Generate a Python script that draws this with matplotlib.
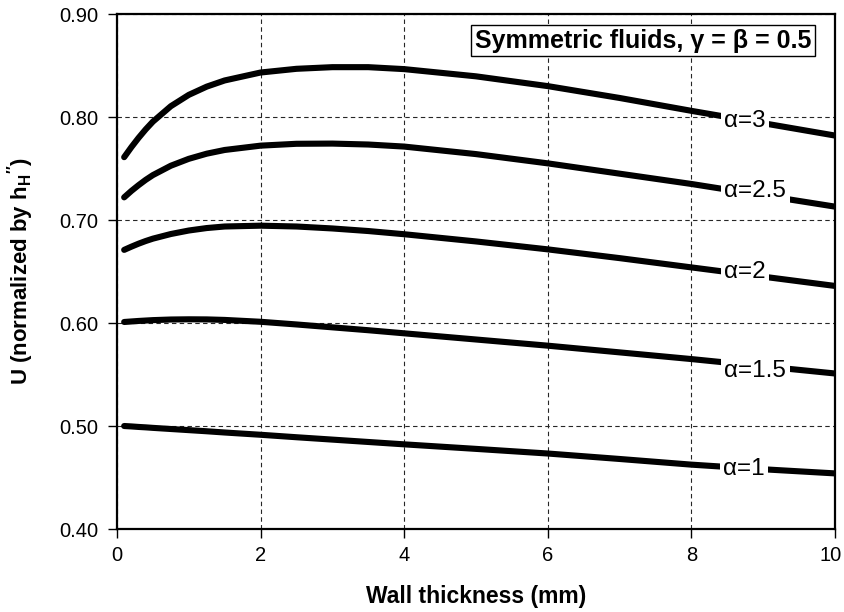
import matplotlib
matplotlib.use("Agg")
import matplotlib.pyplot as plt
import matplotlib.transforms as mtransforms

plt.rcParams['font.family'] = ['Liberation Sans', 'DejaVu Sans']
plt.rcParams['mathtext.fontset'] = 'custom'
plt.rcParams['mathtext.rm'] = 'Liberation Sans'
plt.rcParams['mathtext.bf'] = 'Liberation Sans:bold'

thickness = [0.1, 0.2, 0.3, 0.4, 0.5, 0.75, 1, 1.25, 1.5, 2, 2.5, 3, 3.5, 4, 5, 6, 7, 8, 9, 10]
u_a3  = [0.761, 0.7707, 0.7797, 0.7880, 0.7955, 0.8105, 0.8215, 0.8295, 0.8355, 0.8432, 0.8468, 0.8484, 0.8484, 0.8465, 0.8395, 0.8300, 0.8185, 0.8060, 0.7940, 0.7820]
u_a25 = [0.722, 0.7282, 0.7338, 0.7390, 0.7436, 0.7527, 0.7594, 0.7644, 0.7680, 0.7722, 0.7740, 0.7742, 0.7733, 0.7713, 0.7640, 0.7550, 0.7450, 0.7350, 0.7240, 0.7130]
u_a2  = [0.671, 0.6741, 0.6770, 0.6796, 0.6819, 0.6864, 0.6898, 0.6922, 0.6937, 0.6945, 0.6937, 0.6918, 0.6893, 0.6862, 0.6792, 0.6715, 0.6630, 0.6540, 0.6450, 0.6360]
u_a15 = [0.601, 0.6015, 0.6020, 0.6024, 0.6028, 0.6034, 0.6036, 0.6035, 0.6030, 0.6012, 0.5986, 0.5958, 0.5930, 0.5900, 0.5840, 0.5780, 0.5715, 0.5650, 0.5580, 0.5510]
u_a1  = [0.500, 0.4996, 0.4991, 0.4987, 0.4982, 0.4971, 0.4960, 0.4949, 0.4937, 0.4915, 0.4891, 0.4868, 0.4845, 0.4822, 0.4778, 0.4733, 0.4680, 0.4625, 0.4580, 0.4540]

series = [u_a1, u_a15, u_a2, u_a25, u_a3]
labels = ['α=1', 'α=1.5', 'α=2', 'α=2.5', 'α=3']
label_x = [8.73, 8.89, 8.75, 8.89, 8.75]
label_y = [0.458, 0.553, 0.650, 0.728, 0.796]

xticks = [0, 2, 4, 6, 8, 10]
yticks = [0.40, 0.50, 0.60, 0.70, 0.80, 0.90]

fig = plt.figure(figsize=(8.44, 6.12), dpi=100)
ax = fig.add_axes([0.1386, 0.1356, 0.8507, 0.8415])

for ys in series:
    ax.plot(thickness, ys, color='black', lw=4.4, solid_capstyle='round',
            solid_joinstyle='round', zorder=3)

for lab, lx, ly in zip(labels, label_x, label_y):
    ax.text(lx, ly, lab, fontsize=17.5, ha='center', va='center', zorder=5,
            bbox=dict(facecolor='white', edgecolor='none', pad=2.5))

ax.set_xlim(0, 10)
ax.set_ylim(0.40, 0.90)
ax.set_xticks(xticks)
ax.set_yticks(yticks)
ax.set_yticklabels([f'{v:.2f}' for v in yticks])
ax.tick_params(direction='out', length=6.5, width=1, labelsize=14.5, colors='black')
ax.tick_params(axis='y', pad=7)
ax.tick_params(axis='x', pad=6)

# keep the last x tick label inside the figure
fig.canvas.draw()
last = ax.get_xticklabels()[-1]
last.set_transform(last.get_transform() +
                   mtransforms.ScaledTranslation(-4 / 100, 0, fig.dpi_scale_trans))

ax.grid(True, color='0.15', lw=0.8, linestyle=(0, (4, 3)))
ax.set_axisbelow(True)
for s in ax.spines.values():
    s.set_linewidth(1.6)

ax.set_xlabel('Wall thickness (mm)', fontsize=16.5, fontweight='bold')
ax.xaxis.set_label_coords(0.5, -0.108)
ax.set_ylabel(r'U (normalized by h$_{\mathbf{H}}$$^{\mathbf{\prime\prime}}$)', fontsize=16,
              fontweight='bold')
ax.yaxis.set_label_coords(-0.113, 0.5)

ax.text(0.7326, 0.9485, 'Symmetric fluids, γ = β = 0.5', transform=ax.transAxes,
        fontsize=18, fontweight='bold', ha='center', va='center', zorder=6,
        bbox=dict(facecolor='white', edgecolor='black', lw=1, pad=2.5))

fig.savefig('out.png', dpi=100)
